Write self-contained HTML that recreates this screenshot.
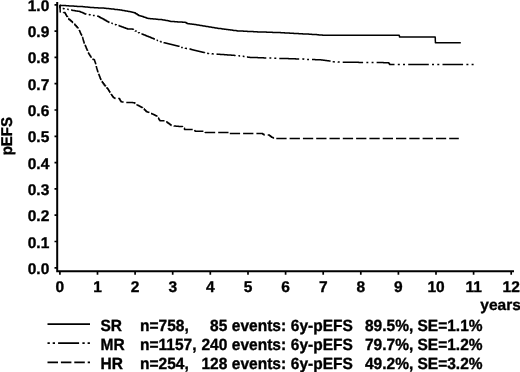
<!DOCTYPE html>
<html><head><meta charset="utf-8"><title>pEFS</title>
<style>
html,body{margin:0;padding:0;background:#fff;}
body{width:520px;height:372px;overflow:hidden;}
svg{display:block;}
text{font-family:"Liberation Sans",Arial,Helvetica,sans-serif;font-weight:bold;fill:#000;stroke:#000;stroke-width:0.35;text-rendering:geometricPrecision;}
.ax{stroke:#000;stroke-width:2;fill:none;}
.tk{stroke:#000;stroke-width:1.7;fill:none;}
.cv{stroke:#000;stroke-width:1.5;fill:none;stroke-linejoin:round;}
.lg{stroke-width:1.75;}
.t{font-size:15.5px;}
</style></head><body>
<svg width="520" height="372" viewBox="0 0 520 372">
<rect width="520" height="372" fill="#fff"/>
<path class="ax" d="M57.2 2 V271.2 H514"/>
<path class="tk" d="M54.5 267.8 H57.2 M54.5 241.5 H57.2 M54.5 215.2 H57.2 M54.5 188.9 H57.2 M54.5 162.6 H57.2 M54.5 136.3 H57.2 M54.5 110.0 H57.2 M54.5 83.7 H57.2 M54.5 57.4 H57.2 M54.5 31.1 H57.2 M54.5 4.8 H57.2 M59.9 271.2 V274.8 M97.5 271.2 V274.8 M135.1 271.2 V274.8 M172.7 271.2 V274.8 M210.3 271.2 V274.8 M248.0 271.2 V274.8 M285.6 271.2 V274.8 M323.2 271.2 V274.8 M360.8 271.2 V274.8 M398.4 271.2 V274.8 M436.0 271.2 V274.8 M473.6 271.2 V274.8 M511.2 271.2 V274.8 "/>
<text class="t" text-anchor="end" x="49.3" y="273.8">0.0</text>
<text class="t" text-anchor="end" x="49.3" y="247.5">0.1</text>
<text class="t" text-anchor="end" x="49.3" y="221.2">0.2</text>
<text class="t" text-anchor="end" x="49.3" y="194.9">0.3</text>
<text class="t" text-anchor="end" x="49.3" y="168.6">0.4</text>
<text class="t" text-anchor="end" x="49.3" y="142.3">0.5</text>
<text class="t" text-anchor="end" x="49.3" y="116.0">0.6</text>
<text class="t" text-anchor="end" x="49.3" y="89.7">0.7</text>
<text class="t" text-anchor="end" x="49.3" y="63.4">0.8</text>
<text class="t" text-anchor="end" x="49.3" y="37.1">0.9</text>
<text class="t" text-anchor="end" x="49.3" y="11.3">1.0</text>
<text class="t" text-anchor="middle" x="59.9" y="292.4">0</text>
<text class="t" text-anchor="middle" x="97.5" y="292.4">1</text>
<text class="t" text-anchor="middle" x="135.1" y="292.4">2</text>
<text class="t" text-anchor="middle" x="172.7" y="292.4">3</text>
<text class="t" text-anchor="middle" x="210.3" y="292.4">4</text>
<text class="t" text-anchor="middle" x="248.0" y="292.4">5</text>
<text class="t" text-anchor="middle" x="285.6" y="292.4">6</text>
<text class="t" text-anchor="middle" x="323.2" y="292.4">7</text>
<text class="t" text-anchor="middle" x="360.8" y="292.4">8</text>
<text class="t" text-anchor="middle" x="398.4" y="292.4">9</text>
<text class="t" text-anchor="middle" x="436.0" y="292.4">10</text>
<text class="t" text-anchor="middle" x="473.6" y="292.4">11</text>
<text class="t" text-anchor="middle" x="511.2" y="292.4">12</text>
<text class="t" x="480.3" y="309.5">years</text>
<text x="0" y="0" font-size="15" text-anchor="middle" transform="translate(12 136.2) rotate(-90) scale(1 1.04)">pEFS</text>
<path class="cv" d="M59.8 5.3H60.8V5.4H61.8V5.4H62.8V5.5H63.8V5.5H64.9V5.6H65.9V5.7H66.9V5.7H67.9V5.8H68.9V5.9H69.9V5.9H70.9V6H72V6H73V6.1H74V6.2H75V6.2H76V6.3H77V6.4H78V6.4H79V6.5H79.9V6.5H80.9V6.6H81.9V6.6H82.9V6.7H83.9V6.8H84.9V6.9H85.9V7H86.9V7.1H88V7.2H89V7.3H90V7.4H91V7.5H92V7.6H93V7.6H94V7.7H95V7.7H96V7.8H97V7.8H98.1V7.9H99.1V7.9H100.1V8H101.1V8H102.1V8.1H103.1V8.1H104.1V8.2H105.1V8.3H106.1V8.4H107V8.5H108V8.6H109V8.7H110V8.8H111V8.9H111.9V9H112.9V9.1H113.9V9.2H114.8V9.4H115.8V9.5H116.8V9.6H117.7V9.7H118.7V9.8H119.7V10H120.6V10.1H121.6V10.3H122.5V10.4H123.5V10.6H124.4V10.7H125.4V10.9H126.3V11H127.3V11.2H128.2V11.4H129.1V11.6H130V11.8H131.1V12H132.1V12.2H133.1V12.5H134.2V12.7H135.3V13.4H136.3V14.1H137.4V14.7H138.5V15.4H139.5V15.7H140.4V16H141.4V16.3H142.3V16.6H143.3V16.9H144.3V17.3H145.2V17.6H146.2V17.9H147.1V18.2H148.1V18.5H149.1V18.6H150.1V18.7H151.1V18.8H152V18.8H153V18.9H154V19H155V19.1H156V19.2H157V19.3H158V19.4H158.9V19.4H159.9V19.5H160.9V19.6H161.9V19.7H162.9V19.9H163.8V20.1H164.8V20.3H165.8V20.5H166.7V20.6H167.7V20.8H168.7V21H169.6V21.2H170.6V21.4H171.6V21.5H172.6V21.5H173.6V21.6H174.5V21.7H175.5V21.7H176.5V21.8H177.5V21.9H178.5V21.9H179.5V22H180.5V22H181.4V22.1H182.4V22.2H183.4V22.2H184.4V22.3H185.3V22.6H186.2V23H187V23.4H187.9V23.7H188.9V23.8H189.9V23.9H190.9V24H192V24.2H193V24.3H194V24.4H195V24.5H196V24.7H197V24.9H198V25H199V25.2H200V25.4H201V25.6H202V25.7H203V25.9H204V26.1H205V26.2H206V26.4H207V26.6H208.1V26.8H209.1V26.9H210.1V27.1H211.1V27.3H212.1V27.4H213.1V27.6H214.1V27.8H215.1V27.9H216.1V28.1H217.1V28.2H218.1V28.4H219.1V28.5H220.1V28.6H221.1V28.8H222.2V28.9H223.2V29H224.2V29.2H225.2V29.3H226.2V29.4H227.2V29.6H228.2V29.7H229.2V29.8H230.2V30H231.2V30.1H232.3V30.2H233.3V30.4H234.3V30.5H235.3V30.6H236.3V30.8H237.3V30.9H238.3V30.9H239.3V31H240.3V31H241.3V31.1H242.3V31.1H243.3V31.2H244.3V31.2H245.3V31.3H246.3V31.3H247.3V31.4H248.4V31.4H249.4V31.5H250.4V31.5H251.4V31.6H252.4V31.6H253.4V31.7H254.4V31.7H255.4V31.8H256.4V31.8H257.4V31.9H258.4V31.9H259.4V31.9H260.4V32H261.4V32H262.4V32H263.4V32.1H264.5V32.1H265.5V32.1H266.5V32.2H267.5V32.2H268.5V32.2H269.5V32.3H270.5V32.3H271.5V32.3H272.5V32.4H273.5V32.4H274.6V32.4H275.6V32.5H276.6V32.5H277.6V32.5H278.6V32.6H279.6V32.6H280.6V32.7H281.6V32.7H282.6V32.8H283.6V32.8H284.6V32.9H285.6V32.9H286.6V33H287.6V33.1H288.6V33.1H289.6V33.2H290.7V33.2H291.7V33.3H292.7V33.3H293.7V33.4H294.7V33.5H295.7V33.5H296.7V33.6H297.7V33.6H298.7V33.7H299.7V33.7H300.7V33.8H301.7V33.8H302.7V33.9H303.8V33.9H304.8V34H305.8V34H306.8V34.1H307.9V34.1H308.9V34.2H309.9V34.2H310.9V34.3H311.9V34.4H313V34.4H314V34.5H315V34.5H315.9V34.6H316.9V34.7H317.8V34.8H318.8V34.9H319.7V34.9H320.6V35H321.6V35.1H322.5V35.2H399H399.2V36H399.5V36.9H435.2H435.2V37.9H435.3V38.8H435.3V39.8H435.3V40.8H435.4V41.7H435.4V42.7H460.8"/>
<path class="cv" d="M59.8 5.2L59.9 5.2L59.9 6.3L59.9 6.3L59.9 7.4L60 7.4L60 8.2M62.7 8.6L63.5 8.6L63.5 8.7L64.4 8.7L64.4 8.8L64.5 8.8M67.2 9.2L68.1 9.2L68.1 9.5L68.7 9.5M71.1 10.1L71.8 10.1L71.8 10.3L72.7 10.3L72.7 10.4L73.7 10.4L73.7 10.6L74.6 10.6L74.6 10.7L75.6 10.7L75.6 10.9L76.5 10.9L76.5 11L77.5 11L77.5 11.2L78.4 11.2L78.4 11.3L79.4 11.3L79.4 11.5L80.3 11.5L80.3 11.9L81.2 11.9L81.2 12.2L82 12.2L82 12.6L82.9 12.6L82.9 13L83.9 13L83.9 13.6L84.9 13.6L84.9 14.1L86 14.1L86 14.2L86.1 14.2M88.9 14.5L89.2 14.5L89.2 14.7L90.1 14.7L90.1 14.9L90.4 14.9M92.9 15.4L93.9 15.4L93.9 15.6L94.7 15.6M97.3 16L97.7 16L97.7 16.2L98.7 16.2L98.7 16.8L99.8 16.8L99.8 17.4L100.8 17.4L100.8 18L101.9 18L101.9 18.6L102.9 18.6L102.9 19.1L104 19.1L104 19.7L105 19.7L105 20.3L106.1 20.3L106.1 20.9L107.1 20.9L107.1 21.5L108.1 21.5L108.1 21.9L109 21.9L109 22.4L109.2 22.4M111.3 23.2L112.2 23.2L112.2 23.6L112.8 23.6M114.9 24.4L115.4 24.4L115.4 24.7L116.3 24.7L116.3 24.9M118.5 25.6L119.2 25.6L119.2 25.9L120.2 25.9L120.2 26.3L121.2 26.3L121.2 26.7L122.2 26.7L122.2 27L123.3 27L123.3 27.4L124.3 27.4L124.3 27.8L125.3 27.8L125.3 28.2L126.3 28.2L126.3 28.5L127.3 28.5L127.3 28.9L128.3 28.9L128.3 29L129.4 29L129.4 29L130.4 29L130.4 29.1L131.5 29.1L131.5 29.1L132.5 29.1L132.5 29.2L133.4 29.2L133.4 29.8M135.1 30.9L135.1 31L136.2 31L136.2 31.5M138.5 32.2L138.5 32.7L139.4 32.7L139.4 33M141.4 33.9L142.3 33.9L142.3 34.3L143.3 34.3L143.3 34.7L144.3 34.7L144.3 35.1L145.3 35.1L145.3 35.5L146.3 35.5L146.3 35.9L147.3 35.9L147.3 36.3L148.3 36.3L148.3 36.7L149.3 36.7L149.3 37.1L150.3 37.1L150.3 37.5L151.3 37.5L151.3 37.9L152.3 37.9L152.3 38.3L153.3 38.3L153.3 38.7L154.3 38.7L154.3 39.3L154.6 39.3M156.6 40.2L157.3 40.2L157.3 40.6L158.1 40.6M160.2 41.5L160.2 41.6L161 41.6L161 41.9L161.6 41.9M163.9 42.5L163.9 42.7L165 42.7L165 43L166 43L166 43.2L167 43.2L167 43.5L168 43.5L168 43.7L169 43.7L169 44L170 44L170 44.2L171.1 44.2L171.1 44.5L172.1 44.5L172.1 44.7L173.1 44.7L173.1 45L174.1 45L174.1 45.2L175.1 45.2L175.1 45.5L176.1 45.5L176.1 45.7L177.2 45.7L177.2 46L178.2 46L178.2 46.2L179.2 46.2L179.2 46.4M181.1 47.4L182 47.4L182 47.6L182.8 47.6M185.3 48.1L185.3 48.3L186.2 48.3L186.2 48.4L187 48.4M189.5 48.9L189.9 48.9L189.9 49.1L190.9 49.1L190.9 49.4L192 49.4L192 49.7L193 49.7L193 50L194 50L194 50.2L195 50.2L195 50.5L196.1 50.5L196.1 50.8L197.1 50.8L197.1 51L198.2 51L198.2 51.3L199.2 51.3L199.2 51.5L200.3 51.5L200.3 51.8L201.4 51.8L201.4 52.1L202.4 52.1L202.4 52.3L203.5 52.3L203.5 52.6L204.6 52.6L204.6 52.8L204.7 52.8M207.3 53.3L207.7 53.3L207.7 53.5L208.8 53.5L208.8 53.6L208.9 53.6M211.9 53.7L211.9 53.8L213 53.8L213 53.9L213.7 53.9M216.6 54.1L217.1 54.1L217.1 54.2L218.1 54.2L218.1 54.2L219.1 54.2L219.1 54.3L220.1 54.3L220.1 54.4L221.1 54.4L221.1 54.5L222.2 54.5L222.2 54.5L223.2 54.5L223.2 54.6L224.2 54.6L224.2 54.7L225.2 54.7L225.2 54.7L226.2 54.7L226.2 54.8L227.2 54.8L227.2 54.9L228.2 54.9L228.2 55L229.2 55L229.2 55L230.2 55L230.2 55.1L231.2 55.1L231.2 55.2L232.3 55.2L232.3 55.2L233.3 55.2L233.3 55.3L234.3 55.3L234.3 55.4L235.3 55.4L235.3 55.5L235.4 55.5M238.4 55.7L238.4 55.7L239.4 55.7L239.4 55.9L240.1 55.9M242.7 56.3L243.6 56.3L243.6 56.5L244.5 56.5M246.9 57.1L247.9 57.1L247.9 57.3L248.9 57.3L248.9 57.3L249.9 57.3L249.9 57.4L250.9 57.4L250.9 57.4L251.9 57.4L251.9 57.4L252.9 57.4L252.9 57.5L253.9 57.5L253.9 57.5L254.9 57.5L254.9 57.5L255.9 57.5L255.9 57.6L256.8 57.6L256.8 57.6L257.8 57.6L257.8 57.7L258.8 57.7L258.8 57.7L259.8 57.7L259.8 57.7L260.8 57.7L260.8 57.8L261.8 57.8L261.8 57.8L262.8 57.8L262.8 57.8L263.8 57.8L263.8 57.9L264.8 57.9L264.8 57.9L265.8 57.9L265.8 57.9L266.3 57.9M269.4 58.1L269.6 58.1L269.6 58.1L270.5 58.1L270.5 58.1L271.3 58.1M274.3 58.3L274.3 58.3L275.3 58.3L275.3 58.3L276.3 58.3M279.3 58.4L279.4 58.4L279.4 58.4L280.4 58.4L280.4 58.5L281.4 58.5L281.4 58.5L282.4 58.5L282.4 58.5L283.4 58.5L283.4 58.5L284.5 58.5L284.5 58.6L285.5 58.6L285.5 58.6L286.5 58.6L286.5 58.6L287.5 58.6L287.5 58.6L288.5 58.6L288.5 58.7L289.5 58.7L289.5 58.7L290.5 58.7L290.5 58.7L291.6 58.7L291.6 58.8L292.6 58.8L292.6 58.8L293.6 58.8L293.6 58.8L294.6 58.8L294.6 58.8L295.6 58.8L295.6 58.9L296.6 58.9L296.6 58.9L297.7 58.9L297.7 58.9L298.7 58.9L298.7 58.9L299.2 58.9M302.3 59.1L302.8 59.1L302.8 59.1L303.8 59.1L303.8 59.2L304.1 59.2M307.1 59.4L307.9 59.4L307.9 59.5L309 59.5L309 59.5M312 59.6L312 59.6L312 59.6L313.1 59.6L313.1 59.6L314.1 59.6L314.1 59.6L315.1 59.6L315.1 59.7L316.1 59.7L316.1 59.7L317.2 59.7L317.2 59.7L318.2 59.7L318.2 59.7L319.2 59.7L319.2 59.7L320.2 59.7L320.2 59.8L321.1 59.8L321.1 60L322.1 60L322.1 60.1L323.1 60.1L323.1 60.2L324 60.2L324 60.3L325 60.3L325 60.5L326 60.5L326 60.6L326.9 60.6L326.9 60.7L327.9 60.7L327.9 60.8L328.9 60.8L328.9 61L329.8 61L329.8 61.1L330.6 61.1M333.1 61.6L333.1 61.7L334.2 61.7L334.2 61.9L334.7 61.9M337.8 62L338.1 62L338.1 62.1L339.1 62.1L339.1 62.1L339.7 62.1M342.7 62.3L343 62.3L343 62.3L344 62.3L344 62.3L345 62.3L345 62.3L345.9 62.3L345.9 62.3L346.9 62.3L346.9 62.3L347.9 62.3L347.9 62.3L348.9 62.3L348.9 62.3L349.9 62.3L349.9 62.3L350.9 62.3L350.9 62.3L351.9 62.3L351.9 62.3L352.8 62.3L352.8 62.3L353.8 62.3L353.8 62.3L354.8 62.3L354.8 62.3L355.8 62.3L355.8 62.3L356.8 62.3L356.8 62.3L357.8 62.3L357.8 62.3L358.7 62.3L358.7 62.4L359.7 62.4L359.7 62.4L360.7 62.4L360.7 62.4L361.7 62.4L361.7 62.4L362.7 62.4L362.7 62.4L363.1 62.4M366.4 62.4L366.6 62.4L366.6 62.4L367.6 62.4L367.6 62.4L368.3 62.4M371.6 62.4L372.5 62.4L372.5 62.4L373.5 62.4L373.5 62.4L373.5 62.4M376.6 62.5L377.4 62.5L377.4 62.5L378.4 62.5L378.4 62.5L379.4 62.5L379.4 62.6L380.4 62.6L380.4 62.6L381.4 62.6L381.4 62.6L382.4 62.6L382.4 62.6L383.4 62.6L383.4 62.7L384.4 62.7L384.4 62.7L385.3 62.7L385.3 62.7L386.3 62.7L386.3 62.8L387.3 62.8L387.3 62.8L388.3 62.8L388.3 62.8L388.9 62.8L388.9 63.6L389.5 63.6L389.5 64.5L394.5 64.5M397.8 64.5L399.8 64.5M403 64.5L405 64.5M408.2 64.5L428.8 64.5M432 64.5L434 64.5M437.3 64.5L439.3 64.5M442.5 64.5L463.1 64.5M466.4 64.5L468.4 64.5M471.6 64.5L473.6 64.5"/>
<path class="cv" d="M59.9 5.2L59.9 5.2L59.9 6.2L60 6.2L60 7.2L60 7.2L60 8.2L60.1 8.2L60.1 9.1L60.1 9.1L60.1 10.1L60.2 10.1L60.2 11.1L60.2 11.1L60.2 12.1L60.8 12.1M63.5 12.3L63.5 12.3L63.5 12.4L64.6 12.4L64.6 12.5L65.1 12.5L65.1 13.5L65.7 13.5L65.7 14.5L66.2 14.5L66.2 15.5L66.8 15.5L66.8 16.5L67.5 16.5L67.5 16.9M68.3 18.5L68.8 18.5L68.8 19.5L70.1 19.5L70.1 20.4L71.2 20.4L71.2 21.4L72.4 21.4L72.4 22.5L73.2 22.5M74.8 23.5L74.8 23.5L74.8 24.9L75.6 24.9L75.6 25.8L76.4 25.8L76.4 26.7L77.3 26.7L77.3 27.7L78.1 27.7L78.1 28.6L78.1 28.6M79.3 29.9L79.3 30.5L79.7 30.5L79.7 31.5L80.1 31.5L80.1 32.5L80.5 32.5L80.5 33.5L81 33.5L81 34.5L81.6 34.5L81.6 35.5L81.9 35.5M82.4 37.3L82.6 37.3L82.6 38.1L82.9 38.1L82.9 39.2L83.2 39.2L83.2 40.2L83.5 40.2L83.5 41.3L83.9 41.3L83.9 42.4L84.2 42.4L84.2 43.4L84.3 43.4M84.9 45.2L84.9 45.3L85.3 45.3L85.3 46.1L85.8 46.1L85.8 47.1L86.2 47.1L86.2 48.2L86.7 48.2L86.7 49.2L87.1 49.2L87.1 50.3L87.6 50.3L87.6 50.8M88.4 52.4L88.5 52.4L88.5 53.4L89 53.4L89 54.2L89.6 54.2L89.6 55.2L90.1 55.2L90.1 56.1L90.7 56.1L90.7 57.1L91.2 57.1L91.2 57.8M92.6 59L93 59L93 59.4L94.2 59.4L94.2 59.8L94.5 59.8L94.5 60.8L94.8 60.8L94.8 61.8L95.2 61.8L95.2 62.7L95.5 62.7L95.5 63.7L95.8 63.7L95.8 64.2M96.3 66L96.3 67.1L96.6 67.1L96.6 68.2L96.9 68.2L96.9 69.2L97.2 69.2L97.2 70.3L97.6 70.3L97.6 71.4L97.9 71.4L97.9 72.4M98.6 74L98.6 74.3L99 74.3L99 75.2L99.4 75.2L99.4 76.3L99.8 76.3L99.8 77.3L100.2 77.3L100.2 78.4L100.7 78.4L100.7 79.5L101.1 79.5L101.1 79.8M101.6 81.6L102.3 81.6L102.3 82.6L103.2 82.6L103.2 83.7L104.1 83.7L104.1 84.9L105 84.9L105 86L105.8 86L105.8 86.1M106.5 87.7L106.5 87.8L107.2 87.8L107.2 88.6L108 88.6L108 89.5L108.6 89.5L108.6 90.5L109.2 90.5L109.2 91.5L109.9 91.5L109.9 92.5L110.2 92.5M111.2 94L111.2 94.5L111.8 94.5L111.8 95.5L112.5 95.5L112.5 96.5L113.2 96.5L113.2 97.5L114.1 97.5L114.1 98L115 98L115 98.4L115.4 98.4M118.2 98.5L119 98.5L119 98.6L119.7 98.6L119.7 99.7L120.3 99.7L120.3 100.7L121 100.7L121 101.8L122 101.8L122 102L123 102L123 102.1L123.6 102.1M126.3 102.4L127 102.4L127 102.4L128 102.4L128 102.5L128.9 102.5L128.9 102.5L129.9 102.5L129.9 102.5L130.9 102.5L130.9 102.6L131.9 102.6L131.9 102.6L132.9 102.6L132.9 102.7L133.9 102.7L133.9 102.7L134.9 102.7L134.9 103.5L135.1 103.5M137 104.3L137 105L137.9 105L137.9 105.5L138.9 105.5L138.9 106L139.8 106L139.8 106.5L140.7 106.5L140.7 106.9L141.7 106.9L141.7 107.4L142.6 107.4L142.6 107.7M144.1 108.8L144.3 108.8L144.3 109.7L145.2 109.7L145.2 110.6L146 110.6L146 111.5L147 111.5L147 111.9L148 111.9L148 112.2L149 112.2L149 112.6L149.1 112.6M151 113.5L151.9 113.5L151.9 113.9L152.8 113.9L152.8 114.3L153.7 114.3L153.7 114.8L154.7 114.8L154.7 115.2L155.6 115.2L155.6 115.7L156.8 115.7L156.8 116.7M158.1 118L158.6 118L158.6 118.9L159.3 118.9L159.3 119.9L159.9 119.9L159.9 120.8L164.2 120.8L164.5 120.8M166.2 121.8L167 121.8L167 122.5L168 122.5L168 123.3L169.1 123.3L169.1 124L170.1 124L170.1 124.8L171.1 124.8L171.1 125.5L171.4 125.5M174 125.8L174 125.8L174 126L174.9 126L174.9 126.1L175.9 126.1L175.9 126.2L176.8 126.2L176.8 126.2L177.8 126.2L177.8 126.3L178.7 126.3L178.7 126.4L179.6 126.4L179.6 126.4L180.6 126.4L180.6 126.5L181.5 126.5L181.5 126.6L182.5 126.6L182.5 127.1M184.3 128L184.5 128L184.5 129.4L192.7 129.4M194.8 130.1L194.8 130.4L195 130.4L195 131.3L203.4 131.3M205.2 132.1L205.2 132.4L215.2 132.4M218.2 132.4L228.5 132.4M229.8 133.6L240.1 133.6M243.1 133.6L253.4 133.6M256.4 133.6L261.5 133.6L262.8 133.6L262.8 134.3L264 134.3L264 135.1L264.7 135.1M267.7 135.1L268.5 135.1L269.5 135.1L269.5 135.8L270.5 135.8L270.5 136.6L271.5 136.6L271.5 137.3L272.4 137.3L272.4 137.6L273.2 137.6L273.2 137.9L274.1 137.9M276.3 138.5L286.6 138.5M289.6 138.5L299.9 138.5M302.9 138.5L313.2 138.5M316.2 138.5L326.5 138.5M329.5 138.5L339.8 138.5M342.8 138.5L353.1 138.5M356.1 138.5L366.4 138.5M369.4 138.5L379.7 138.5M382.7 138.5L393 138.5M396 138.5L406.3 138.5M409.3 138.5L419.6 138.5M422.6 138.5L432.9 138.5M435.9 138.5L446.2 138.5M449.2 138.5L458.8 138.5"/>
<path class="cv lg" d="M47.5 324.0 H90"/>
<path class="cv lg" stroke-dasharray="2.3 2.9 2.3 3.1 21 3.3 2.3 2.9 2.3 3" d="M47.5 343.1 H90"/>
<path class="cv lg" stroke-dasharray="10.5 2.9" d="M47.5 362.4 H90"/>
<text class="t" transform="translate(0 330.9) scale(1 1.05)"><tspan x="100.5">SR</tspan><tspan x="140">n=758,</tspan><tspan x="227.3" text-anchor="end">85</tspan><tspan x="231.8">events:</tspan><tspan x="290.8">6y-pEFS</tspan><tspan x="365">89.5%,</tspan><tspan x="417.5">SE=1.1%</tspan></text>
<text class="t" transform="translate(0 349.9) scale(1 1.05)"><tspan x="100.5">MR</tspan><tspan x="140">n=1157,</tspan><tspan x="227.3" text-anchor="end">240</tspan><tspan x="231.8">events:</tspan><tspan x="290.8">6y-pEFS</tspan><tspan x="365">79.7%,</tspan><tspan x="417.5">SE=1.2%</tspan></text>
<text class="t" transform="translate(0 368.9) scale(1 1.05)"><tspan x="100.5">HR</tspan><tspan x="140">n=254,</tspan><tspan x="227.3" text-anchor="end">128</tspan><tspan x="231.8">events:</tspan><tspan x="290.8">6y-pEFS</tspan><tspan x="365">49.2%,</tspan><tspan x="417.5">SE=3.2%</tspan></text>
</svg></body></html>
